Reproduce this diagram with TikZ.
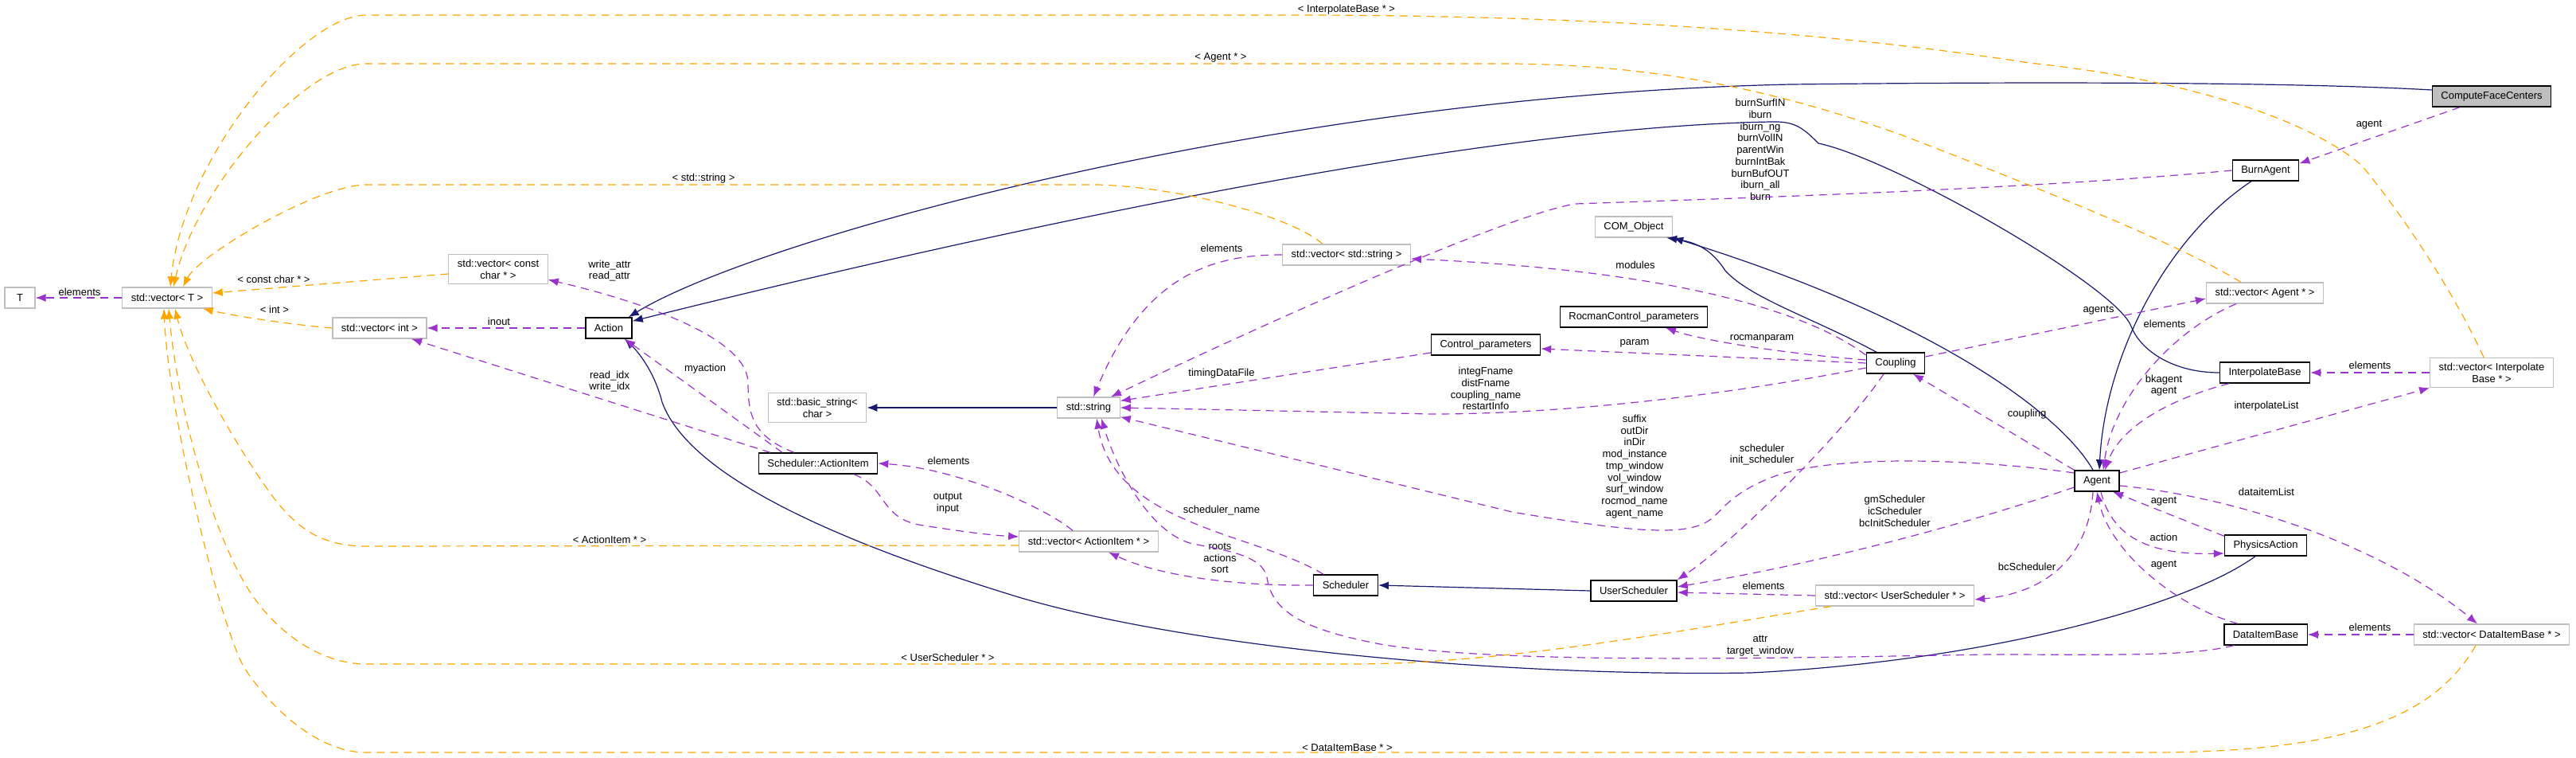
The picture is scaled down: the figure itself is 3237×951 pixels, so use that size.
\documentclass[tikz,border=0pt]{standalone}
\usepackage{fontspec}
\setmainfont{Liberation Sans}
\usetikzlibrary{arrows.meta}
\definecolor{lien}{HTML}{9A32CD}
\definecolor{gabarit}{HTML}{FFA500}
\definecolor{heritage}{HTML}{191970}
\definecolor{grisbord}{HTML}{BFBFBF}
\begin{document}
\begin{tikzpicture}[x=1pt,y=-1pt,font=\fontsize{13pt}{14.7pt}\selectfont]
		% définition des styles
		\tikzstyle{classe}=[rectangle,draw=black,line width=1.4pt,fill=white,text=black,inner xsep=11pt,inner ysep=6.5pt,minimum width=38pt,minimum height=26pt,align=center]
		\tikzstyle{externe}=[classe,draw=grisbord,line width=1.2pt]
		\tikzstyle{courante}=[classe,fill=grisbord]
		\tikzstyle{herite}=[-{Latex[length=13pt,width=10pt]},draw=heritage,line width=1.2pt]
		\tikzstyle{utilise}=[-{Latex[length=13pt,width=10pt]},draw=lien,line width=1.2pt,dash pattern=on 10pt off 7pt]
		\tikzstyle{instancie}=[utilise,draw=gabarit]
		\tikzstyle{etiquette}=[align=center,inner sep=0pt,text=black]
		\useasboundingbox (0,0) rectangle (3237,951);
		% les nœuds
		\node[externe] (t) at (25,374) {T};
		\node[externe] (vect) at (210,374) {std::vector< T >};
		\node[externe] (vconst) at (626,338) {std::vector< const\\char * >};
		\node[externe] (vint) at (477,412) {std::vector< int >};
		\node[classe] (action) at (765,412) {Action};
		\node[externe] (basicstr) at (1027,512) {std::basic\_string<\\char >};
		\node[classe] (actionitem) at (1028,582) {Scheduler::ActionItem};
		\node[externe] (stdstring) at (1368,512) {std::string};
		\node[externe] (vstring) at (1692,320) {std::vector< std::string >};
		\node[externe] (vactionitem) at (1368,680) {std::vector< ActionItem * >};
		\node[classe] (ctrlparam) at (1867,433) {Control\_parameters};
		\node[classe] (scheduler) at (1691,735) {Scheduler};
		\node[externe] (comobj) at (2053,285) {COM\_Object};
		\node[classe] (rocmanparam) at (2053,398) {RocmanControl\_parameters};
		\node[classe] (coupling) at (2382,456) {Coupling};
		\node[classe] (usersched) at (2053,742) {UserScheduler};
		\node[externe] (vusersched) at (2381,748) {std::vector< UserScheduler * >};
		\node[courante] (cfc) at (3131,121) {ComputeFaceCenters};
		\node[classe] (burnagent) at (2847,214) {BurnAgent};
		\node[externe] (vagent) at (2846,368) {std::vector< Agent * >};
		\node[classe] (interpbase) at (2846,468) {InterpolateBase};
		\node[externe] (vinterp) at (3131,468) {std::vector< Interpolate\\Base * >};
		\node[classe] (agent) at (2635,604) {Agent};
		\node[classe] (physaction) at (2847,685) {PhysicsAction};
		\node[classe] (dataitem) at (2847,797) {DataItemBase};
		\node[externe] (vdataitem) at (3131,797) {std::vector< DataItemBase * >};
		% les étiquettes
		\node[etiquette] (e-elemT) at (100,367) {elements};
		\node[etiquette] (e-constchar) at (344,351) {< const char * >};
		\node[etiquette] (e-int) at (345,389) {< int >};
		\node[etiquette] (e-inout) at (627,404) {inout};
		\node[etiquette] (e-attr) at (766,340) {write\_attr\\read\_attr};
		\node[etiquette] (e-idx) at (766,479) {read\_idx\\write\_idx};
		\node[etiquette] (e-myaction) at (886,463) {myaction};
		\node[etiquette] (e-stringT) at (884,224) {< std::string >};
		\node[etiquette] (e-agentT) at (1534,72) {< Agent * >};
		\node[etiquette] (e-interpT) at (1692,12) {< InterpolateBase * >};
		\node[etiquette] (e-actionitemT) at (766,678) {< ActionItem * >};
		\node[etiquette] (e-userschedT) at (1191,826) {< UserScheduler * >};
		\node[etiquette] (e-dataitemT) at (1693,939) {< DataItemBase * >};
		\node[etiquette] (e-elemAI) at (1192,579) {elements};
		\node[etiquette] (e-output) at (1191,632) {output\\input};
		\node[etiquette] (e-roots) at (1533,701) {roots\\actions\\sort};
		\node[etiquette] (e-schedname) at (1535,641) {scheduler\_name};
		\node[etiquette] (e-timing) at (1535,469) {timingDataFile};
		\node[etiquette] (e-integ) at (1867,488) {integFname\\distFname\\coupling\_name\\restartInfo};
		\node[etiquette] (e-elemstr) at (1535,312) {elements};
		\node[etiquette] (e-burn) at (2212,188) {burnSurfIN\\iburn\\iburn\_ng\\burnVolIN\\parentWin\\burnIntBak\\burnBufOUT\\iburn\_all\\burn};
		\node[etiquette] (e-modules) at (2055,333) {modules};
		\node[etiquette] (e-param) at (2054,431) {param};
		\node[etiquette] (e-rocman) at (2214,425) {rocmanparam};
		\node[etiquette] (e-suffix) at (2054,586) {suffix\\outDir\\inDir\\mod\_instance\\tmp\_window\\vol\_window\\surf\_window\\rocmod\_name\\agent\_name};
		\node[etiquette] (e-sched) at (2214,571) {scheduler\\init\_scheduler};
		\node[etiquette] (e-gm) at (2381,642) {gmScheduler\\icScheduler\\bcInitScheduler};
		\node[etiquette] (e-coupling) at (2547,520) {coupling};
		\node[etiquette] (e-elemUS) at (2216,736) {elements};
		\node[etiquette] (e-bc) at (2547,712) {bcScheduler};
		\node[etiquette] (e-attrwin) at (2212,811) {attr\\target\_window};
		\node[etiquette] (e-agentCFC) at (2977,157) {agent};
		\node[etiquette] (e-agents) at (2637,390) {agents};
		\node[etiquette] (e-elemAg) at (2720,407) {elements};
		\node[etiquette] (e-bk) at (2719,484) {bkagent\\agent};
		\node[etiquette] (e-elemIB) at (2978,459) {elements};
		\node[etiquette] (e-interpList) at (2848,510) {interpolateList};
		\node[etiquette] (e-dataList) at (2848,618) {dataitemList};
		\node[etiquette] (e-agentPA) at (2719,630) {agent};
		\node[etiquette] (e-action) at (2719,675) {action};
		\node[etiquette] (e-agentDI) at (2719,710) {agent};
		\node[etiquette] (e-elemDI) at (2978,788) {elements};
		% les flèches d'héritage
		\draw[herite] ([yshift=8pt]cfc.west) .. controls (2900,104) and (2600,102) .. (2250,106) .. controls (1600,120) and (950,300) .. ([xshift=-5pt]action.north east);
		\draw[herite] (interpbase.west) .. controls (2730,468) and (2690,440) .. (2678,410) .. controls (2660,360) and (2380,200) .. (2285,180) .. controls (2265,160) and (2255,152) .. (2225,153) .. controls (1850,160) and (1250,290) .. ([yshift=-5pt]action.north east);
		\draw[herite] ([xshift=-13pt]physaction.south) .. controls (2750,760) and (2500,830) .. (2200,845) .. controls (1900,850) and (1500,815) .. (1280,750) .. controls (1100,695) and (870,610) .. (832,505) .. controls (822,465) and (800,440) .. ([xshift=20pt]action.south);
		\draw[herite] ([xshift=-18pt]burnagent.south) .. controls (2720,300) and (2645,450) .. ([xshift=3pt]agent.north);
		\draw[herite] ([xshift=-5pt]agent.north) .. controls (2590,520) and (2430,400) .. (comobj.south east);
		\draw[herite] ([xshift=-24pt]coupling.north) .. controls (2280,400) and (2200,375) .. (2168,340) .. controls (2150,312) and (2130,304) .. ([xshift=-8pt]comobj.south east);
		\draw[herite] (usersched.west) -- (scheduler.east);
		\draw[herite] (stdstring.west) -- (basicstr.east);
		% les flèches d'utilisation
		\draw[utilise] (vect.west) -- (t.east);
		\draw[utilise] (action.west) -- (vint.east);
		\draw[utilise] ([xshift=-30pt]actionitem.north) .. controls (945,548) and (940,520) .. (940,480) .. controls (938,420) and (790,375) .. ([yshift=6pt]vconst.south east);
		\draw[utilise] ([xshift=-60pt]actionitem.north) -- ([xshift=40pt]vint.south);
		\draw[utilise] ([xshift=-45pt]actionitem.north) -- ([xshift=20pt]action.south);
		\draw[utilise] ([xshift=-20pt]vactionitem.north) .. controls (1310,635) and (1200,588) .. (actionitem.east);
		\draw[utilise] ([xshift=45pt]actionitem.south) .. controls (1115,612) and (1105,652) .. (1160,660) .. controls (1200,666) and (1240,672) .. ([yshift=6pt]vactionitem.west);
		\draw[utilise] (scheduler.west) .. controls (1560,736) and (1460,725) .. ([xshift=25pt]vactionitem.south);
		\draw[utilise] ([xshift=-28pt]scheduler.north) .. controls (1580,670) and (1400,660) .. ([xshift=10pt]stdstring.south);
		\draw[utilise] ([xshift=-40pt]dataitem.south) .. controls (2750,825) and (2650,822) .. (2500,822) .. controls (2250,826) and (1900,835) .. (1740,810) .. controls (1630,790) and (1598,765) .. (1592,725) .. controls (1586,695) and (1530,690) .. (1495,682) .. controls (1440,665) and (1400,580) .. ([xshift=16pt]stdstring.south);
		\draw[utilise] ([yshift=-10pt]ctrlparam.west) -- ([yshift=-5pt]stdstring.north east);
		\draw[utilise] ([yshift=-6pt]coupling.west) .. controls (2150,500) and (1950,520) .. (1800,520) -- (stdstring.east);
		\draw[utilise] (coupling.west) -- ([yshift=-5pt]ctrlparam.east);
		\draw[utilise] ([yshift=4pt]coupling.west) .. controls (2250,445) and (2140,428) .. ([xshift=40pt]rocmanparam.south);
		\draw[utilise] ([yshift=10pt]coupling.west) .. controls (2270,390) and (2100,340) .. ([yshift=-5pt]vstring.east);
		\draw[utilise] (vstring.west) .. controls (1530,320) and (1440,340) .. ([xshift=6pt]stdstring.north);
		\draw[utilise] (burnagent.west) .. controls (2550,238) and (2150,250) .. (1980,256) .. controls (1890,270) and (1560,420) .. ([xshift=28pt]stdstring.north);
		\draw[utilise] ([yshift=10pt]agent.west) .. controls (2480,576) and (2300,570) .. (2225,600) .. controls (2175,620) and (2165,640) .. (2150,652) .. controls (2120,675) and (2050,668) .. (1900,643) -- ([yshift=2pt]stdstring.south east);
		\draw[utilise] (agent.north west) -- ([xshift=22pt]coupling.south);
		\draw[utilise] ([xshift=-15pt]coupling.south) .. controls (2320,540) and (2180,680) .. (usersched.north east);
		\draw[utilise] ([yshift=-8pt]agent.west) .. controls (2480,655) and (2300,705) .. ([yshift=5pt]usersched.east);
		\draw[utilise] (vusersched.west) -- ([yshift=-2pt]usersched.east);
		\draw[utilise] ([xshift=-5pt]agent.south) .. controls (2625,700) and (2570,745) .. ([yshift=-5pt]vusersched.east);
		\draw[utilise] ([yshift=8pt]coupling.east) -- ([yshift=-7pt]vagent.west);
		\draw[utilise] ([xshift=-36pt]vagent.south) .. controls (2730,415) and (2655,500) .. ([xshift=8pt]agent.north);
		\draw[utilise] ([xshift=-45pt]interpbase.south) .. controls (2730,500) and (2665,535) .. ([xshift=10pt]agent.north);
		\draw[utilise] (vinterp.west) -- (interpbase.east);
		\draw[utilise] ([yshift=10pt]agent.east) -- (vinterp.south west);
		\draw[utilise] ([yshift=-6pt]agent.east) .. controls (2820,625) and (3000,690) .. ([xshift=-18pt]vdataitem.north);
		\draw[utilise] ([yshift=-2pt]physaction.north west) -- ([xshift=20pt]agent.south);
		\draw[utilise] ([xshift=5pt]agent.south) .. controls (2655,680) and (2710,697) .. ([yshift=-10pt]physaction.west);
		\draw[utilise] ([xshift=-35pt]dataitem.north) .. controls (2730,760) and (2650,690) .. (agent.south);
		\draw[utilise] (vdataitem.west) -- (dataitem.east);
		\draw[utilise] ([xshift=-40pt]cfc.south) -- ([yshift=-5pt]burnagent.north east);
		% les flèches d'instanciation
		\draw[instancie] ([yshift=-6pt]vconst.west) -- ([yshift=6pt]vect.east);
		\draw[instancie] (vint.west) .. controls (370,408) and (300,398) .. ([xshift=-12pt]vect.south east);
		\draw[instancie] ([xshift=-30pt]vstring.north) .. controls (1620,270) and (1480,235) .. (1380,232) -- (460,232) .. controls (400,232) and (250,320) .. ([xshift=20pt]vect.north);
		\draw[instancie] ([xshift=-30pt]vagent.north) .. controls (2760,320) and (2650,270) .. (2391,170) .. controls (2250,120) and (2100,82) .. (1900,80) -- (460,80) .. controls (380,80) and (245,240) .. ([xshift=8pt]vect.north);
		\draw[instancie] ([xshift=-10pt]vinterp.north) .. controls (3085,370) and (3020,270) .. (2967,207) .. controls (2900,150) and (2750,100) .. (2550,79) .. controls (2300,40) and (2000,20) .. (1650,19) -- (460,19) .. controls (380,19) and (230,200) .. ([xshift=4pt]vect.north);
		\draw[instancie] ([yshift=-5pt]vactionitem.west) -- (460,686) .. controls (400,686) and (370,660) .. (340,620) .. controls (290,550) and (235,450) .. ([xshift=10pt]vect.south);
		\draw[instancie] ([xshift=-80pt]vusersched.south) .. controls (2150,785) and (1900,834) .. (1700,834) -- (460,834) .. controls (400,834) and (340,790) .. (306,730) .. controls (260,650) and (222,500) .. ([xshift=2pt]vect.south);
		\draw[instancie] ([xshift=-20pt]vdataitem.south) .. controls (3060,900) and (2950,945) .. (2700,945) -- (460,945) .. controls (400,945) and (340,890) .. (306,837) .. controls (275,780) and (212,520) .. ([xshift=-4pt]vect.south);
\end{tikzpicture}
\end{document}
